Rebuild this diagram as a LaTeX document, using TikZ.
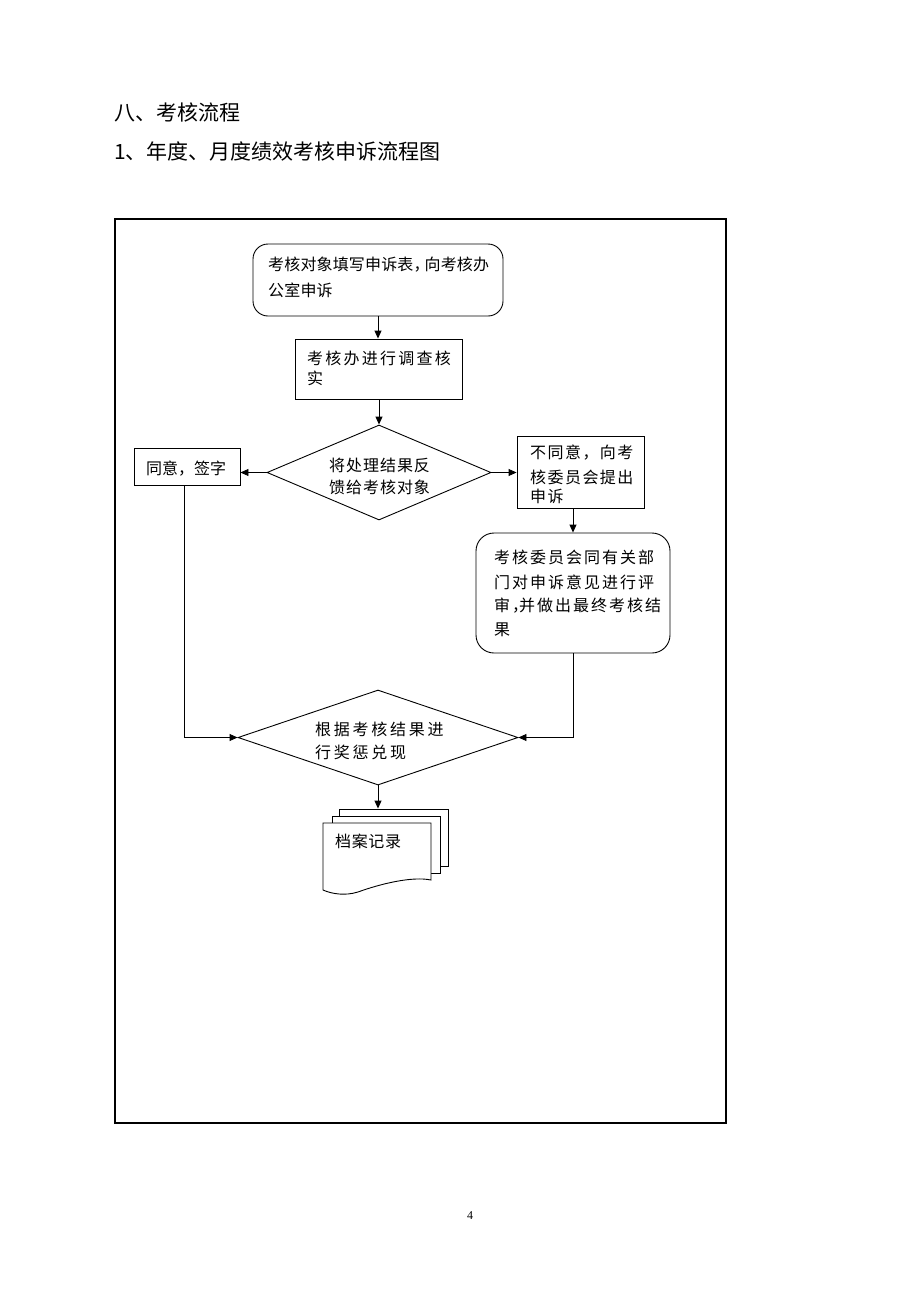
\documentclass[tikz,border=0pt]{standalone}
\usepackage{fontspec}
\setmainfont{Liberation Serif}
\newfontfamily\cjk{Noto Sans CJK SC}
\usetikzlibrary{shapes.geometric,arrows.meta}
\newcommand\lsp[1]{\addfontfeature{LetterSpace=#1}}
\begin{document}
\begin{tikzpicture}[x=1pt,y=-1pt,
  shp/.style={draw,line width=0.9pt,inner sep=0pt,fill=white},
  txt/.style={anchor=west,inner sep=0pt,font=\cjk\fontsize{16}{16}\selectfont},
  ttl/.style={anchor=west,inner sep=0pt,font=\cjk\fontsize{21}{21}\selectfont},
  arr/.style={line width=0.9pt,-{Triangle[length=8pt,width=7pt]}},
  ln/.style={line width=0.9pt}]
\useasboundingbox (0,0) rectangle (920,1302);
\fill[white] (0,0) rectangle (920,1302);
% titles
\node[ttl] (t1) at (114,112.5) {八、考核流程};
\node[ttl] (t2) at (114,151) {1、年度、月度绩效考核申诉流程图};
% frame
\node[draw,line width=2pt,minimum width=611pt,minimum height=904pt,inner sep=0pt] (frame) at (420.5,671) {};
% shapes
\node[shp,rounded corners=15pt,minimum width=250pt,minimum height=72pt] (b1) at (378,280) {};
\node[shp,minimum width=167pt,minimum height=60pt] (b2) at (378.5,369) {};
\node[shp,diamond,minimum width=224pt,minimum height=95pt] (d1) at (379,472.5) {};
\node[shp,minimum width=106pt,minimum height=37pt] (lb) at (187,466.5) {};
\node[shp,minimum width=127pt,minimum height=72pt] (rb) at (580.5,472) {};
\node[shp,rounded corners=18pt,minimum width=194pt,minimum height=120pt] (rr) at (573,593) {};
\node[shp,diamond,minimum width=280pt,minimum height=95pt] (d2) at (378,737.5) {};
% document stack
\node[shp,minimum width=109pt,minimum height=57pt] (doc3) at (393.5,837.5) {};
\node[shp,minimum width=108pt,minimum height=57pt] (doc2) at (386,844.5) {};
\coordinate (f1) at (323,823);
\coordinate (f2) at (431,823);
\coordinate (f3) at (431,880);
\coordinate (f4) at (323,890);
\draw[line width=0.9pt,fill=white] (f1) -- (f2) -- (f3)
  .. controls (412,876) and (380,884) .. (358,892)
  .. controls (345,896) and (332,894) .. (f4) -- cycle;
% texts
\node[txt] (b1a) at (268,265) {\lsp{1}考核对象填写申诉表，\kern-5pt向考核办};
\node[txt] (b1b) at (268,290) {\lsp{1}公室申诉};
\node[txt] (b2a) at (307,358) {\lsp{14}考核办进行调查核};
\node[txt] (b2b) at (307,378) {\lsp{14}实};
\node[txt] (d1a) at (329,465) {\lsp{6}将处理结果反};
\node[txt] (d1b) at (329,487.5) {\lsp{6}馈给考核对象};
\node[txt] (lba) at (146,468.5) {\lsp{0}同意，签字};
\node[txt] (rba) at (530,453) {\lsp{9}不同意，向考};
\node[txt] (rbb) at (530,477) {\lsp{9}核委员会提出};
\node[txt] (rbc) at (530,496) {\lsp{9}申诉};
\node[txt] (rra) at (494,557) {\lsp{12.5}考核委员会同有关部};
\node[txt] (rrb) at (494,582) {\lsp{12.5}门对申诉意见进行评};
\node[txt] (rrc) at (494,606) {\lsp{12.5}审，\kern-9pt并做出最终考核结};
\node[txt] (rrd) at (494,630) {\lsp{12.5}果};
\node[txt] (d2a) at (315,729) {\lsp{17}根据考核结果进};
\node[txt] (d2b) at (315,752.5) {\lsp{17}行奖惩兑现};
\node[txt] (doct) at (335,841) {\lsp{4}档案记录};
% connectors
\draw[arr] (b1.south) -- (b1.south |- b2.north);
\draw[arr] (b2.south -| d1.north) -- (d1.north);
\draw[arr] (d1.west) -- (d1.west -| lb.east);
\draw[arr] (d1.east) -- (d1.east -| rb.west);
\draw[arr] (rr.north |- rb.south) -- (rr.north);
\draw[arr] ([xshift=-3pt]lb.south) |- (d2.west);
\draw[arr] (rr.south) |- (d2.east);
\draw[arr] (d2.south) -- (d2.south |- doc3.north);
% page number
\node[inner sep=0pt,font=\fontsize{12}{12}\selectfont] (pg) at (470,1216) {4};
\end{tikzpicture}
\end{document}
